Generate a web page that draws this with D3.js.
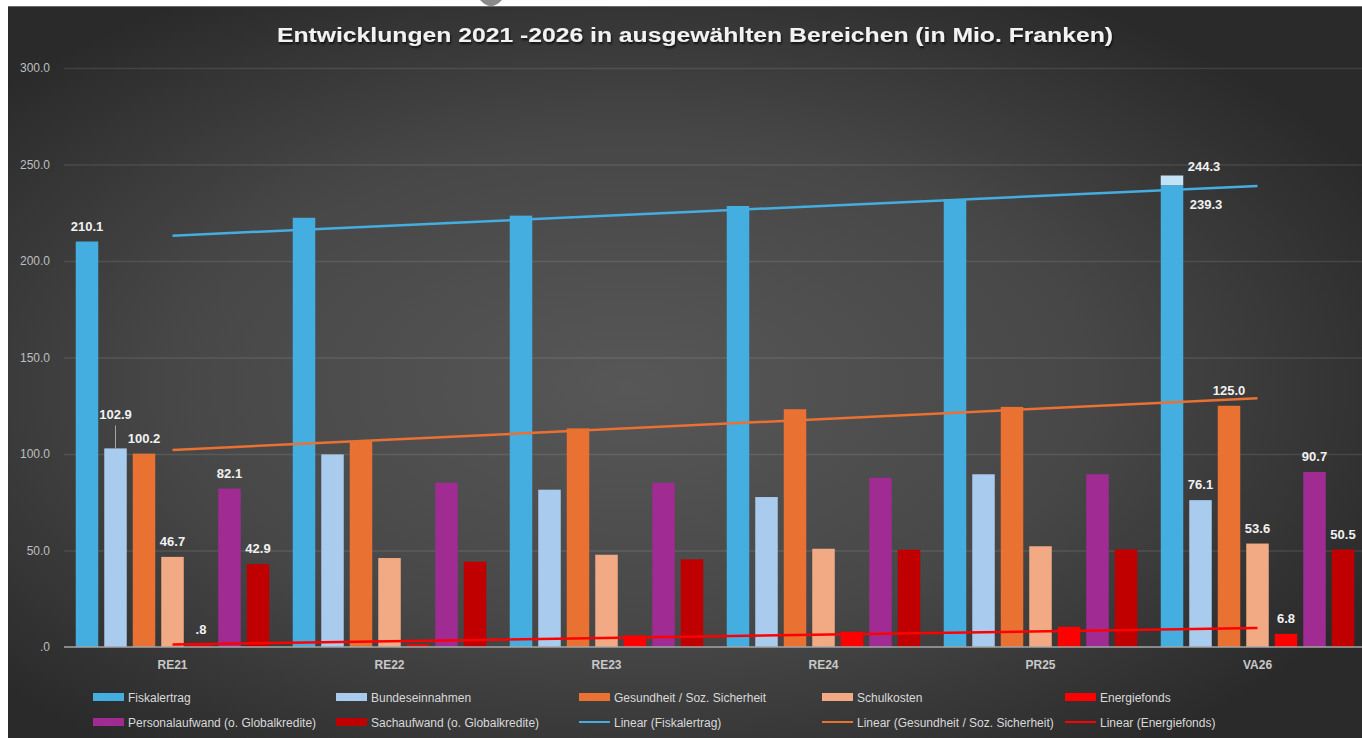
<!DOCTYPE html>
<html>
<head>
<meta charset="utf-8">
<script src="https://cdn.jsdelivr.net/npm/d3@7"></script>
<style>
    html, body { margin: 0; padding: 0; background: #ffffff; }
    #chart-area svg { display: block; }
    .axis-label { font-family: "Liberation Sans", Arial, sans-serif; font-size: 12px; fill: #bfbfbf; }
    .cat-label { font-family: "Liberation Sans", Arial, sans-serif; font-size: 12px; font-weight: 700; fill: #c8c8c8; }
    .value-label { font-family: "Liberation Sans", Arial, sans-serif; font-size: 13px; font-weight: 700; fill: #f2f2f2; }
    .legend-text { font-family: "Liberation Sans", Arial, sans-serif; font-size: 12px; fill: #d9d9d9; }
</style>
</head>
<body>
<div id="chart-area"></div>
<script>

// Data (Mio. Franken)
const categories = ["RE21", "RE22", "RE23", "RE24", "PR25", "VA26"];
const fiskalertrag = [210.1, 222.4, 223.5, 228.5, 232.1, 239.3];
const fiskalertragTotal = [null, null, null, null, null, 244.3];
const bundeseinnahmen = [102.9, 99.8, 81.5, 77.7, 89.5, 76.1];
const gesundheit = [100.2, 106.7, 113.3, 123.2, 124.4, 125.0];
const schulkosten = [46.7, 46.1, 47.8, 50.9, 52.2, 53.6];
const energiefonds = [0.8, 1.3, 6.0, 7.9, 10.5, 6.8];
const personalaufwand = [82.1, 85.1, 85.1, 87.7, 89.5, 90.7];
const sachaufwand = [42.9, 44.2, 45.4, 50.4, 50.6, 50.5];
const yTicks = [0, 50, 100, 150, 200, 250, 300];
const labelledCategories = ["RE21", "VA26"];

const seriesNames = [
    "Fiskalertrag", "Bundeseinnahmen", "Gesundheit / Soz. Sicherheit", "Schulkosten",
    "Energiefonds", "Personalaufwand (o. Globalkredite)", "Sachaufwand (o. Globalkredite)"
];
const seriesValues = [fiskalertrag, bundeseinnahmen, gesundheit, schulkosten, energiefonds, personalaufwand, sachaufwand];
const seriesColors = ["#45aee0", "#a9cbee", "#e97132", "#f2aa84", "#ff0000", "#a02b93", "#c00000"];
const trendSeries = ["Fiskalertrag", "Gesundheit / Soz. Sicherheit", "Energiefonds"];
const trendColors = ["#45aee0", "#e97132", "#ff0000"];


class DevChart {

    constructor(_parentElement) {
        this.parentElement = _parentElement;
        this.initVis();
    }

    initVis() {
        let vis = this;

        vis.width = 1362;
        vis.height = 738;
        vis.plot = { left: 64, right: 1366, top: 68, bottom: 647 };

        vis.svg = d3.select("#" + vis.parentElement).append("svg")
            .attr("width", vis.width)
            .attr("height", vis.height);

        // background gradient
        let defs = vis.svg.append("defs");
        let grad = defs.append("radialGradient")
            .attr("id", "bg-grad")
            .attr("cx", "46%").attr("cy", "52%").attr("r", "62%");
        grad.append("stop").attr("offset", "0%").attr("stop-color", "#575757");
        grad.append("stop").attr("offset", "55%").attr("stop-color", "#474747");
        grad.append("stop").attr("offset", "100%").attr("stop-color", "#2a2a2a");

        let shadow = defs.append("filter").attr("id", "title-shadow")
            .attr("x", "-5%").attr("y", "-30%").attr("width", "110%").attr("height", "160%");
        shadow.append("feDropShadow")
            .attr("dx", 1).attr("dy", 2).attr("stdDeviation", 1.2)
            .attr("flood-color", "#000").attr("flood-opacity", 0.7);

        vis.svg.append("rect")
            .attr("x", 8).attr("y", 6)
            .attr("width", vis.width - 8).attr("height", vis.height - 6)
            .style("fill", "url(#bg-grad)");
        vis.svg.append("line")
            .attr("x1", 8).attr("x2", vis.width)
            .attr("y1", 6.5).attr("y2", 6.5)
            .style("stroke", "#6a6a6a").style("stroke-width", 1);

        // small grey shape cut at the top edge of the screenshot
        vis.svg.append("path")
            .attr("d", "M480,0 Q491,12 502,0 Z")
            .style("fill", "#8a8a8a");

        // Title
        vis.svg.append("text")
            .attr("x", 695)
            .attr("y", 42)
            .attr("text-anchor", "middle")
            .attr("textLength", 836)
            .attr("lengthAdjust", "spacingAndGlyphs")
            .attr("filter", "url(#title-shadow)")
            .style("font-family", "'Liberation Sans', Arial, sans-serif")
            .style("font-size", "20px")
            .style("font-weight", "700")
            .style("fill", "#f2f2f2")
            .text("Entwicklungen 2021 -2026 in ausgewählten Bereichen (in Mio. Franken)");

        // Scales
        vis.x0 = d3.scaleBand()
            .domain(categories)
            .range([vis.plot.left, vis.plot.right]);

        vis.x1 = d3.scaleBand()
            .domain(seriesNames)
            .range([0, vis.x0.bandwidth()])
            .paddingInner(0.21)
            .paddingOuter(0.412);

        vis.y = d3.scaleLinear()
            .domain([0, 300])
            .range([vis.plot.bottom, vis.plot.top]);

        vis.fmt = function (v) {
            return d3.format(".1f")(v).replace(/^0\./, ".");
        };

        // Gridlines + y axis labels
        vis.yAxis = d3.axisLeft(vis.y)
            .tickValues(yTicks)
            .tickSize(-(vis.width - vis.plot.left))
            .tickPadding(14)
            .tickFormat(vis.fmt);

        let yg = vis.svg.append("g")
            .attr("class", "y-axis axis")
            .attr("transform", "translate(" + vis.plot.left + ",0)")
            .call(vis.yAxis);
        yg.select(".domain").remove();
        yg.selectAll(".tick line")
            .style("stroke", "#ffffff")
            .style("stroke-opacity", d => d === 0 ? 0 : 0.1)
            .style("stroke-width", 1.3);
        yg.selectAll(".tick text")
            .attr("class", "axis-label")
            .attr("font-family", null).attr("font-size", null)
            .attr("fill", null);

        vis.wrangleData();
    }

    wrangleData() {
        let vis = this;

        vis.barData = [];
        seriesNames.forEach(function (name, s) {
            categories.forEach(function (cat, i) {
                vis.barData.push({ series: name, cat: cat, value: seriesValues[s][i], color: seriesColors[s] });
            });
        });

        // linear trend lines (least squares over category index)
        vis.trends = trendSeries.map(function (name, t) {
            let vals = seriesValues[seriesNames.indexOf(name)];
            let xs = vals.map((d, i) => i + 1);
            let mx = d3.mean(xs), my = d3.mean(vals);
            let sxy = d3.sum(xs, (x, i) => (x - mx) * (vals[i] - my));
            let sxx = d3.sum(xs, x => (x - mx) * (x - mx));
            let slope = sxy / sxx;
            return {
                name: name,
                color: trendColors[t],
                points: [
                    { cat: categories[0], value: my + slope * (1 - mx) },
                    { cat: categories[categories.length - 1], value: my + slope * (categories.length - mx) }
                ]
            };
        });

        vis.updateVis();
    }

    updateVis() {
        let vis = this;

        let barX = d => vis.x0(d.cat) + vis.x1(d.series);

        // Bars
        vis.svg.append("g").selectAll(".bar")
            .data(vis.barData)
            .enter().append("rect")
            .attr("class", "bar")
            .attr("x", barX)
            .attr("width", vis.x1.bandwidth())
            .attr("y", d => vis.y(d.value))
            .attr("height", d => vis.y(0) - vis.y(d.value))
            .style("fill", d => d.color);

        // lighter top part of the VA26 Fiskalertrag bar
        let totals = categories.map((c, i) => ({ cat: c, total: fiskalertragTotal[i], base: fiskalertrag[i] }))
            .filter(d => d.total !== null);
        vis.svg.append("g").selectAll(".bar-top")
            .data(totals)
            .enter().append("rect")
            .attr("class", "bar-top")
            .attr("x", d => vis.x0(d.cat) + vis.x1(seriesNames[0]))
            .attr("width", vis.x1.bandwidth())
            .attr("y", d => vis.y(d.total))
            .attr("height", d => vis.y(d.base) - vis.y(d.total))
            .style("fill", "#c3e2f6");

        // Baseline
        vis.svg.append("line")
            .attr("x1", vis.plot.left).attr("x2", vis.width)
            .attr("y1", vis.y(0)).attr("y2", vis.y(0))
            .style("stroke", "#a6a6a6").style("stroke-width", 1.3);

        // Trend lines
        let line = d3.line()
            .x(d => vis.x0(d.cat) + vis.x0.bandwidth() / 2)
            .y(d => vis.y(d.value));

        vis.svg.append("g").selectAll(".trend")
            .data(vis.trends)
            .enter().append("path")
            .attr("class", "trend")
            .attr("d", d => line(d.points))
            .style("fill", "none")
            .style("stroke", d => d.color)
            .style("stroke-width", 2.5);

        // Category labels
        vis.svg.append("g").selectAll(".cat-label")
            .data(categories)
            .enter().append("text")
            .attr("class", "cat-label")
            .attr("x", d => vis.x0(d) + vis.x0.bandwidth() / 2)
            .attr("y", vis.y(0) + 22)
            .attr("text-anchor", "middle")
            .text(d => d);

        // Value labels (first and last category only)
        let labelData = vis.barData.filter(d => labelledCategories.includes(d.cat));
        let cx = d => barX(d) + vis.x1.bandwidth() / 2;
        let isLifted = d => d.cat === "RE21" && d.series === "Bundeseinnahmen";
        let isFiskalLast = d => d.cat === "VA26" && d.series === "Fiskalertrag";

        vis.svg.append("g").selectAll(".value-label")
            .data(labelData)
            .enter().append("text")
            .attr("class", "value-label")
            .attr("text-anchor", "middle")
            .attr("x", d => isFiskalLast(d) ? cx(d) + 34 : cx(d))
            .attr("y", function (d) {
                if (isLifted(d)) return vis.y(d.value) - 29;
                if (isFiskalLast(d)) return vis.y(d.value) + 24;
                return vis.y(d.value) - 11;
            })
            .text(d => vis.fmt(d.value));

        // leader line for the lifted label
        vis.svg.append("g").selectAll(".leader")
            .data(labelData.filter(isLifted))
            .enter().append("line")
            .attr("x1", cx).attr("x2", cx)
            .attr("y1", d => vis.y(d.value) - 23)
            .attr("y2", d => vis.y(d.value))
            .style("stroke", "#a6a6a6").style("stroke-width", 1);

        // label for the total of the split bar
        vis.svg.append("g").selectAll(".total-label")
            .data(totals)
            .enter().append("text")
            .attr("class", "value-label")
            .attr("text-anchor", "middle")
            .attr("x", d => vis.x0(d.cat) + vis.x1(seriesNames[0]) + vis.x1.bandwidth() / 2 + 32)
            .attr("y", d => vis.y(d.total) - 5)
            .text(d => vis.fmt(d.total));

        // Legend
        let legendItems = seriesNames.map((n, i) => ({ name: n, color: seriesColors[i], type: "bar" }))
            .concat(vis.trends.map(t => ({ name: "Linear (" + t.name + ")", color: t.color, type: "line" })));

        let legend = vis.svg.append("g").selectAll(".legend-item")
            .data(legendItems)
            .enter().append("g")
            .attr("class", "legend-item")
            .attr("transform", (d, i) => "translate(" + (93 + (i % 5) * 243) + "," + (697 + Math.floor(i / 5) * 25) + ")");

        legend.filter(d => d.type === "bar").append("rect")
            .attr("x", 0).attr("y", -4)
            .attr("width", 31).attr("height", 8)
            .style("fill", d => d.color);

        legend.filter(d => d.type === "line").append("line")
            .attr("x1", 0).attr("x2", 31)
            .attr("y1", 0).attr("y2", 0)
            .style("stroke", d => d.color)
            .style("stroke-width", 2);

        legend.append("text")
            .attr("class", "legend-text")
            .attr("x", 35)
            .attr("y", 4.5)
            .text(d => d.name);
    }
}

new DevChart("chart-area");

</script>
</body>
</html>
